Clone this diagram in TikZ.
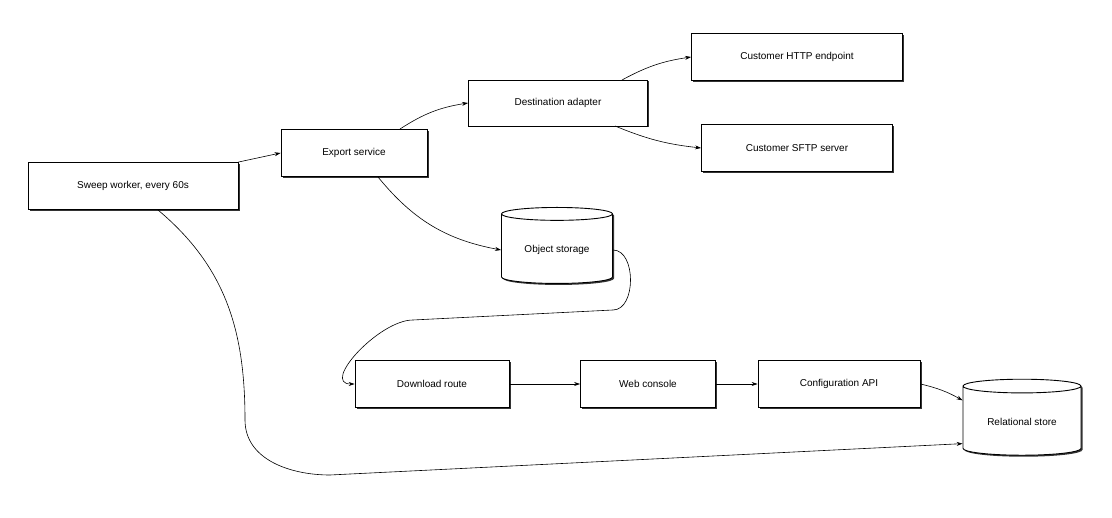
\documentclass[tikz,border=0pt]{standalone}
\usepackage{fontspec}
\setmainfont{Liberation Sans}
\usetikzlibrary{shapes.geometric,shadows,arrows.meta}
\begin{document}
\begin{tikzpicture}[x=1pt,y=-1pt,
 box/.style={draw,line width=0.9pt,fill=white,minimum height=47pt,font=\fontsize{10}{12}\selectfont,
   drop shadow={shadow xshift=1.5pt,shadow yshift=-1.5pt,fill=black!80,opacity=1}},
 cyl/.style={draw,line width=0.9pt,fill=white,cylinder,shape border rotate=90,aspect=0.18,font=\fontsize{10}{12}\selectfont,
   drop shadow={shadow xshift=1.5pt,shadow yshift=-1.5pt,fill=black!80,opacity=1}},
 conn/.style={line width=0.6pt,-{Stealth[length=6pt,width=4pt]}}]
\useasboundingbox (0,0) rectangle (1112,518);
\node[box,minimum width=210pt] (sw) at (133,186) {Sweep worker, every 60s};
\node[box,minimum width=146pt] (ex) at (354,153) {Export service};
\node[box,minimum width=179pt,minimum height=46pt] (da) at (558,103) {Destination adapter};
\node[box,minimum width=211pt] (http) at (797,57) {Customer HTTP endpoint};
\node[box,minimum width=191pt] (sftp) at (797,148) {Customer SFTP server};
\node[cyl,minimum width=111pt,minimum height=76pt] (os) at (557,250) {Object storage};
\node[box,minimum width=154pt] (dl) at (432,384) {Download route};
\node[box,minimum width=135pt] (wc) at (648,384) {Web console};
\node[box,minimum width=162pt] (ca) at (839,384) {Configuration API};
\node[cyl,minimum width=118pt,minimum height=76pt] (rs) at (1022,422) {Relational store};
\coordinate (e1) at (400,129);
\coordinate (d1) at (622,80);
\coordinate (d2) at (615,126);
\coordinate (e2) at (378,177);
\coordinate (s1) at (158,210);
\draw[conn] (sw.north east) -- (ex.west);
\draw[conn] (e1) to[bend left=12] (da.west);
\draw[conn] (d1) to[bend left=10] (http.west);
\draw[conn] (d2) to[bend right=8] (sftp.west);
\draw[conn] (e2) to[bend right=20] (os.west);
\draw[conn] (os.east) to[out=0,in=0] ++(0,60) coordinate (m1) -- ++(-200,10) coordinate (m2) to[out=180,in=180] (dl.west);
\draw[conn] (dl) -- (wc);
\draw[conn] (wc) -- (ca);
\draw[conn] (ca.east) to[bend left=8] (rs.160);
\draw[conn] (s1) to[out=-40,in=90] (245,420) to[out=-90,in=180] (330,475) -- (rs.200);
\end{tikzpicture}
\end{document}
